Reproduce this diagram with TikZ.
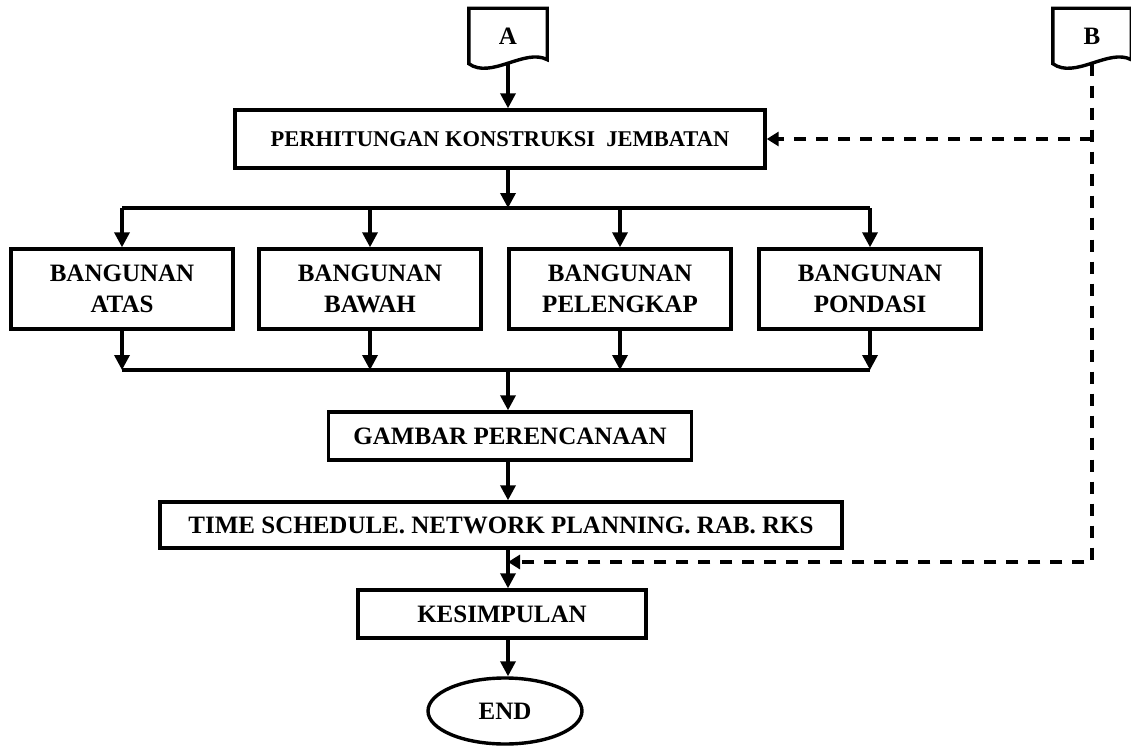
\documentclass[tikz,border=0pt]{standalone}
\usepackage{fontspec}
\setmainfont{Liberation Serif}
\usetikzlibrary{arrows.meta,positioning,shapes.geometric}

\begin{document}
\begin{tikzpicture}[x=1pt,y=-1pt,>={Triangle[length=15pt,width=15pt]},
  font=\fontsize{25}{31}\selectfont\bfseries,line width=3.4pt,
  proses/.style={draw,line width=3.4pt,rectangle,inner sep=0pt,align=center},
  bangunan/.style={proses,minimum width=222pt,minimum height=80pt},
  konektor/.style={rectangle,minimum width=75pt,minimum height=52pt,inner sep=0pt},
  putus/.style={line width=3.4pt,dash pattern=on 12pt off 10pt,
    -{Triangle[length=12pt,width=14pt]}}]
  \useasboundingbox (0,0) rectangle (1131,746);

  \node[konektor] (A) at (508,36) {A};
  \node[konektor] (B) at (1092,36) {B};
  \foreach \k in {A,B}
    \draw (\k.south west) -- (\k.north west) -- (\k.north east)
      -- ([yshift=4pt]\k.south east)
      .. controls +(-22,-12) and +(22,16) .. (\k.south west) -- cycle;

  \node[proses,minimum width=530pt,minimum height=58pt,
    font=\fontsize{22.5}{27}\selectfont\bfseries] (perhitungan) at (500,139)
    {PERHITUNGAN KONSTRUKSI\ \ JEMBATAN};

  \node[bangunan] (atas) at (122,289) {BANGUNAN\\ATAS};
  \node[bangunan] (bawah) at (370,289) {BANGUNAN\\BAWAH};
  \node[bangunan] (pelengkap) at (620,289) {BANGUNAN\\PELENGKAP};
  \node[bangunan] (pondasi) at (870,289) {BANGUNAN\\PONDASI};

  \node[proses,minimum width=363pt,minimum height=48pt] (gambar) at (510,436)
    {GAMBAR PERENCANAAN};
  \node[proses,minimum width=682pt,minimum height=46pt] (jadwal) at (501,525)
    {TIME SCHEDULE. NETWORK PLANNING. RAB. RKS};
  \node[proses,minimum width=288pt,minimum height=48pt] (kesimpulan) at (502,614)
    {KESIMPULAN};
  \node[draw,line width=3.4pt,ellipse,minimum width=154pt,minimum height=66pt,
    inner sep=0pt] (selesai) at (505,711) {END};

  \coordinate (pecah) at (508,208);
  \coordinate (gabung) at (508,370);
  \coordinate (masuk) at (508,562);

  \draw[->] (A.south) -- (A.south |- perhitungan.north);
  \draw[->] (pecah |- perhitungan.south) -- (pecah);
  \draw (atas |- pecah) -- (pondasi |- pecah);
  \foreach \n in {atas,bawah,pelengkap,pondasi} {
    \draw[->] (\n |- pecah) -- (\n);
    \draw[->] (\n) -- (\n |- gabung);
  }
  \draw (atas |- gabung) -- (pondasi |- gabung);
  \draw[->] (gabung) -- (gabung |- gambar.north);
  \draw[->] (gabung |- gambar.south) -- (gabung |- jadwal.north);
  \draw[->] (gabung |- jadwal.south) -- (gabung |- kesimpulan.north);
  \draw[->] (gabung |- kesimpulan.south) -- (gabung |- selesai.north);

  \draw[putus] (B.south) -- (B |- masuk) -- (masuk);
  \draw[putus] (B |- perhitungan) -- (perhitungan.east);
\end{tikzpicture}
\end{document}
